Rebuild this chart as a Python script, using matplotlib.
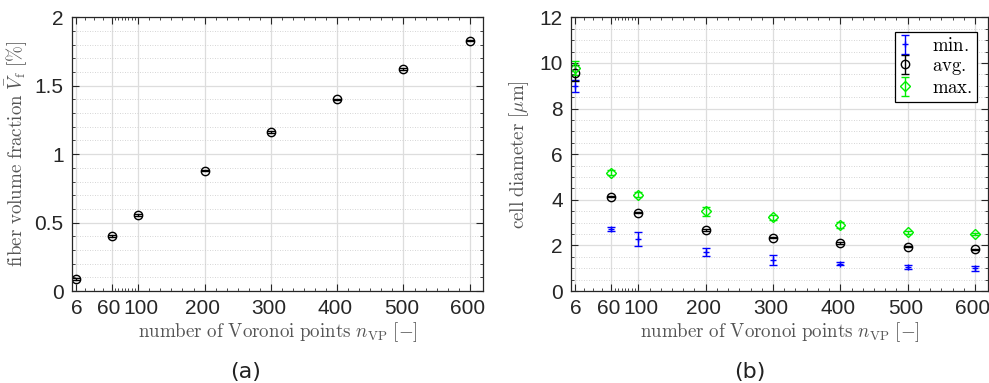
import matplotlib
matplotlib.use('Agg')
import matplotlib.pyplot as plt
import matplotlib.transforms as mtransforms
import numpy as np

plt.rcParams['mathtext.fontset'] = 'cm'
plt.rcParams['font.family'] = ['Liberation Sans', 'DejaVu Sans']

# data
n_vp = [6, 60, 100, 200, 300, 400, 500, 600]
x_ticks = [6, 60, 100, 200, 300, 400, 500, 600]

vf_mean = [0.085, 0.40, 0.555, 0.88, 1.16, 1.40, 1.62, 1.83]
vf_err = [0.008, 0.006, 0.006, 0.006, 0.006, 0.006, 0.006, 0.006]

d_min = [8.98, 2.72, 2.28, 1.72, 1.38, 1.20, 1.06, 0.99]
d_min_err = [0.25, 0.10, 0.30, 0.18, 0.22, 0.05, 0.10, 0.12]
d_avg = [9.55, 4.14, 3.44, 2.68, 2.34, 2.11, 1.94, 1.83]
d_avg_err = [0.35, 0.03, 0.03, 0.03, 0.03, 0.03, 0.03, 0.03]
d_max = [9.77, 5.19, 4.22, 3.50, 3.23, 2.90, 2.58, 2.50]
d_max_err = [0.30, 0.12, 0.10, 0.20, 0.12, 0.12, 0.06, 0.06]

# MATLAB-like minor ticks
x_minor = [19.5, 33, 46.5] + list(range(65, 100, 5)) + \
    [b + k * 100 / 6 for b in range(100, 600, 100) for k in range(1, 6)]

label_kw = dict(fontsize=13.7, color='#555555')
xlabel_txt = r'$\mathrm{number\ of\ Voronoi\ points}\ n_{\mathrm{VP}}\ [-]$'


def style_axes(fig, ax, ymax, ymajor, yminor):
    ax.set_xlim(0, 620)
    ax.set_ylim(0, ymax)
    ax.set_xticks(x_ticks)
    ax.set_xticks(x_minor, minor=True)
    ax.set_yticks(np.arange(0, ymax + 1e-9, ymajor))
    ax.set_yticks(np.arange(0, ymax + 1e-9, yminor), minor=True)
    ax.tick_params(which='both', direction='in', top=True, right=True,
                   labelsize=15, colors='#262626', pad=6)
    ax.tick_params(which='major', length=5, width=0.8)
    ax.tick_params(which='minor', length=2.5, width=0.6)
    ax.grid(True, which='major', color='#dddddd', lw=0.9)
    ax.grid(True, which='minor', axis='y', color='#c8c8c8', lw=0.6, ls=(0, (1, 2)))
    ax.set_axisbelow(True)
    for s in ax.spines.values():
        s.set_color('#262626')
        s.set_linewidth(0.9)
    ax.set_xlabel(xlabel_txt, labelpad=1, **label_kw)
    # keep "60" and "100" apart like the original
    labels = ax.get_xticklabels()
    for lab, dx in zip(labels, [1, -3, 3, -2, -2, -2, -2, -2]):
        off = mtransforms.ScaledTranslation(dx / 100, 0, fig.dpi_scale_trans)
        lab.set_transform(lab.get_transform() + off)


fig = plt.figure(figsize=(9.89, 3.83), dpi=100)

ax1 = fig.add_axes([0.0728, 0.2402, 0.4156, 0.7146])
style_axes(fig, ax1, 2, 0.5, 0.1)
ax1.yaxis.set_major_formatter(matplotlib.ticker.FuncFormatter(lambda v, p: f'{v:g}'))
ax1.errorbar(n_vp, vf_mean, yerr=vf_err, fmt='o', color='k', mfc='none',
             ms=6, mew=1.0, elinewidth=1.0, capsize=3)
ax1.set_ylabel(r'$\mathrm{fiber\ volume\ fraction}\ \bar{V}_{\mathrm{f}}\ [\%]$',
               labelpad=4, **label_kw)

ax2 = fig.add_axes([0.5774, 0.2402, 0.4220, 0.7146])
style_axes(fig, ax2, 12, 2, 0.5)
ax2.errorbar(n_vp, d_min, yerr=d_min_err, fmt='+', color='#0000ff', ms=4,
             elinewidth=1.0, capsize=3, label='min.')
ax2.errorbar(n_vp, d_avg, yerr=d_avg_err, fmt='o', color='k', mfc='none', ms=6,
             mew=1.0, elinewidth=1.0, capsize=3, label='avg.')
ax2.errorbar(n_vp, d_max, yerr=d_max_err, fmt='D', color='#00ee00', mfc='none', ms=5,
             mew=1.0, elinewidth=1.0, capsize=3, label='max.')
ax2.set_ylabel(r'$\mathrm{cell\ diameter}\ [\mu\mathrm{m}]$', labelpad=6, **label_kw)
leg = ax2.legend([r'$\mathrm{min.}$', r'$\mathrm{avg.}$', r'$\mathrm{max.}$'],
                 loc='upper right', bbox_to_anchor=(0.972, 0.945), fancybox=False,
                 edgecolor='k', framealpha=1, handlelength=0.6, handletextpad=1.1,
                 borderpad=0.25, labelspacing=0.15, borderaxespad=0, fontsize=13.5)
leg.get_frame().set_linewidth(0.9)

fig.text(0.248, 0.012, '(a)', fontsize=16, family='DejaVu Sans', color='#222222', ha='center')
fig.text(0.758, 0.012, '(b)', fontsize=16, family='DejaVu Sans', color='#222222', ha='center')

fig.savefig('out.png', dpi=100)
